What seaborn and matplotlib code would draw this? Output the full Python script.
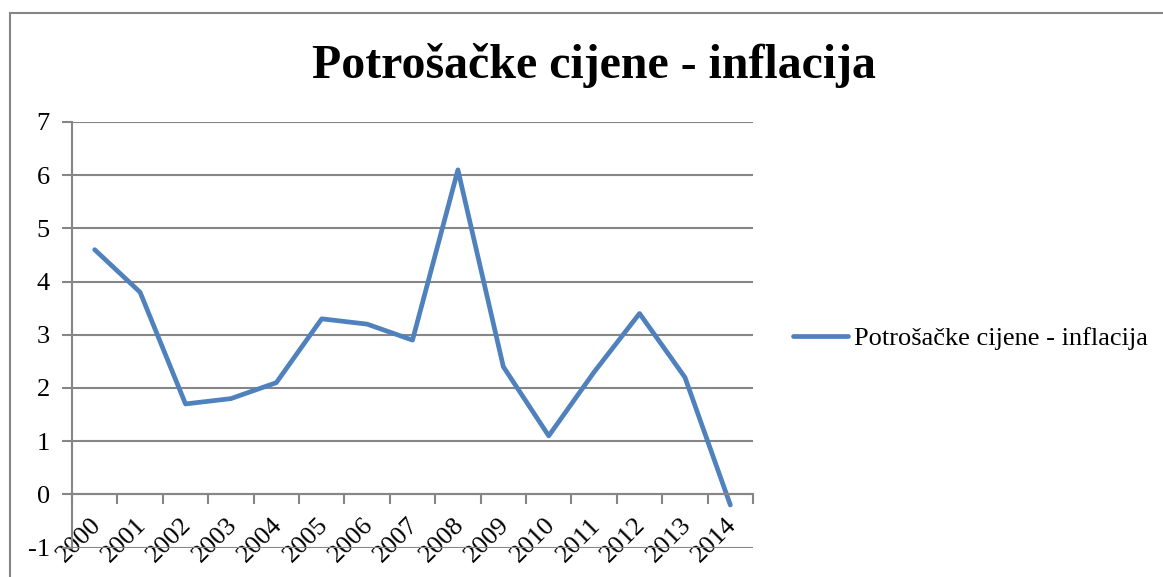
import pandas as pd
import matplotlib
matplotlib.use("Agg")
import matplotlib.pyplot as plt
import matplotlib.transforms as mtransforms
import seaborn as sns
from matplotlib.patches import Rectangle

# Chart data
years = ['2000', '2001', '2002', '2003', '2004', '2005', '2006', '2007',
         '2008', '2009', '2010', '2011', '2012', '2013', '2014']
inflation = [4.6, 3.8, 1.7, 1.8, 2.1, 3.3, 3.2, 2.9, 6.1, 2.4, 1.1, 2.3, 3.4, 2.2, -0.2]
series_name = 'Potrošačke cijene - inflacija'

data = pd.DataFrame({'pos': range(len(years)), 'value': inflation})

sns.set_style('white')
plt.rcParams['font.family'] = ['Liberation Serif', 'DejaVu Serif']
plt.rcParams['axes.unicode_minus'] = False
plt.rcParams['text.color'] = 'black'
plt.rcParams['xtick.labelcolor'] = 'black'
plt.rcParams['ytick.labelcolor'] = 'black'

grey = '#868686'
blue = '#4F81BD'

fig = plt.figure(figsize=(11.63, 5.77), dpi=100)
ax = fig.add_axes([0.0619, 0.0510, 0.5856, 0.7376])

sns.lineplot(ax=ax, data=data, x='pos', y='value', color=blue, linewidth=3.4,
             label=series_name)

# Axes limits and ticks
ax.set_xlim(-0.5, len(years) - 0.5)
ax.set_ylim(-1, 7)
ax.set_yticks(range(-1, 8))
ax.set_xticks(range(len(years)))
ax.set_xticklabels(years)
ax.set_xticks([i - 0.5 for i in range(len(years) + 1)], minor=True)
ax.set_xlabel('')
ax.set_ylabel('')

ax.grid(axis='y', color=grey, linewidth=1.5)
ax.set_axisbelow(True)
for s in ['top', 'right']:
    ax.spines[s].set_visible(False)
ax.spines['bottom'].set_position(('data', 0))
ax.spines['bottom'].set_color(grey)
ax.spines['bottom'].set_linewidth(1.5)
ax.spines['left'].set_color(grey)
ax.spines['left'].set_linewidth(1.5)

ax.tick_params(axis='y', which='major', direction='out', length=7, width=1.5,
               color=grey, labelsize=19, pad=9, left=True)
ax.tick_params(axis='x', which='major', length=0, labelsize=19, pad=14)
ax.tick_params(axis='x', which='minor', direction='out', length=7, width=1.5,
               color=grey, bottom=True)
plt.setp(ax.get_xticklabels(), rotation=45, ha='right', va='top',
         rotation_mode='anchor')
# nudge the rotated year labels a little to the left
offset = mtransforms.ScaledTranslation(-0.05, 0, fig.dpi_scale_trans)
for lbl in ax.get_xticklabels():
    lbl.set_transform(lbl.get_transform() + offset)

# Legend on the right
ax.legend(loc='center left', bbox_to_anchor=(793 / 1163, 1 - 338 / 577),
          bbox_transform=fig.transFigure, frameon=False, fontsize=19,
          handlelength=2.1, handletextpad=0.2, borderaxespad=0, borderpad=0)

# Title
fig.text(0.511, 1 - 65 / 577, series_name, ha='center', va='center',
         fontsize=34.5, fontweight='bold')

# Chart area border
fig.patches.append(Rectangle((10 / 1163, -0.1), 1.2, 1 - 13 / 577 + 0.1,
                             transform=fig.transFigure, fill=False,
                             edgecolor=grey, linewidth=1.5))

fig.savefig('out.png', dpi=100)
